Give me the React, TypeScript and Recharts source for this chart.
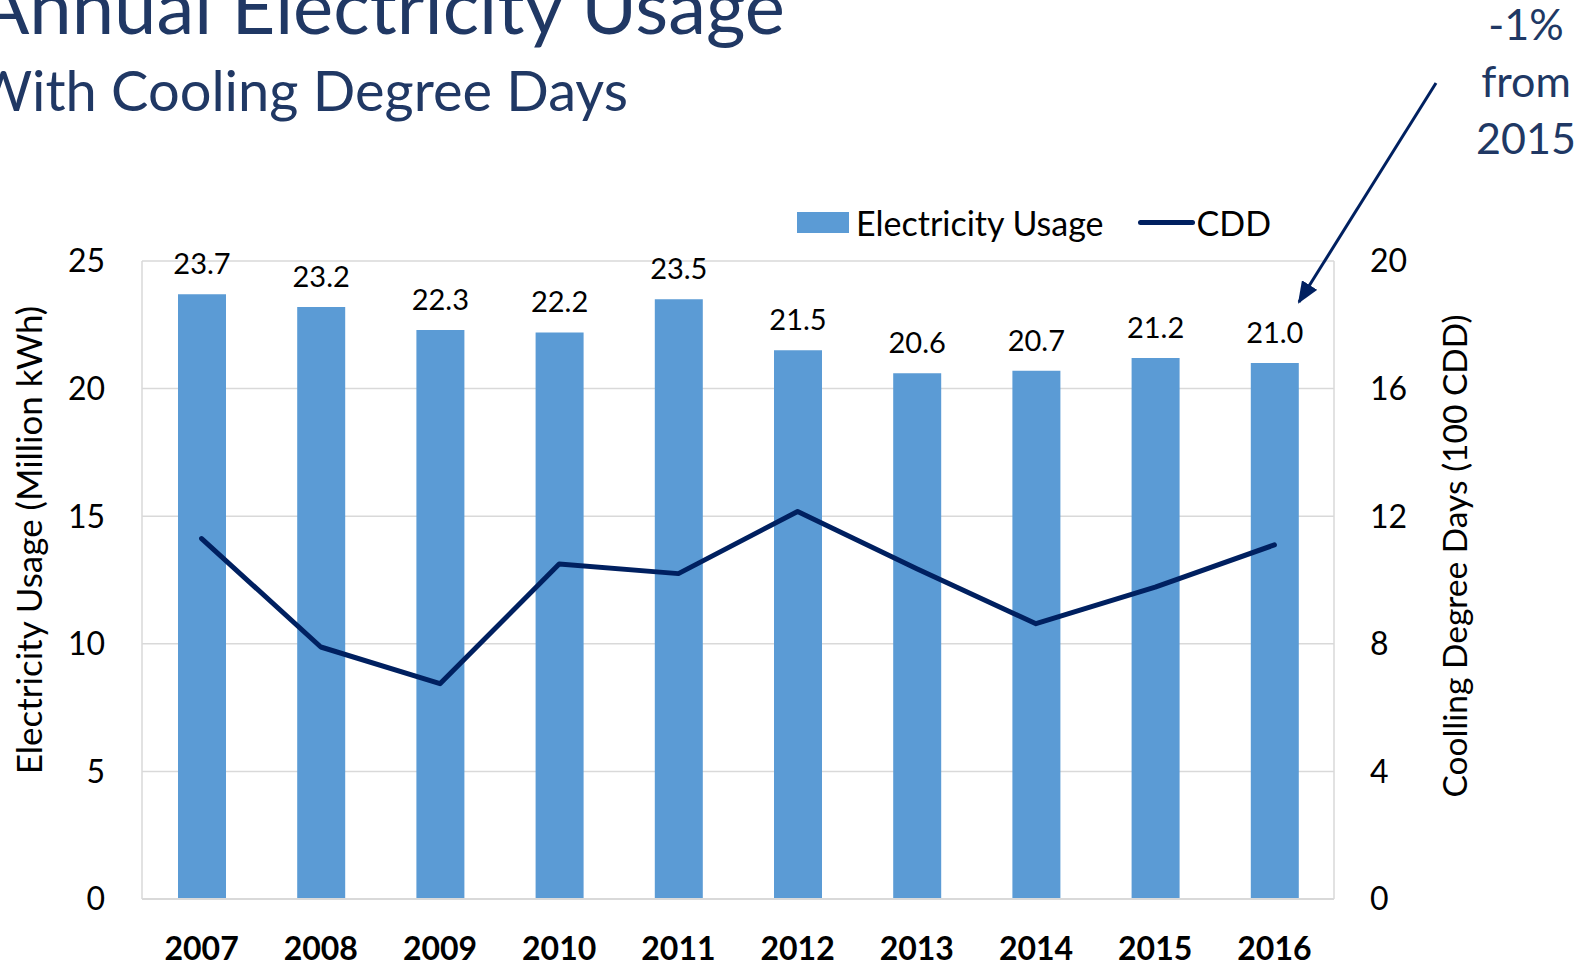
import React from 'react';
import { ComposedChart, Bar, Line, XAxis, YAxis, CartesianGrid, Legend, LabelList } from 'recharts';

// values
const years = ['2007', '2008', '2009', '2010', '2011', '2012', '2013', '2014', '2015', '2016'];
const usageMillionKwh = [23.7, 23.2, 22.3, 22.2, 23.5, 21.5, 20.6, 20.7, 21.2, 21.0];
const cddHundreds = [11.3, 7.9, 6.75, 10.5, 10.2, 12.15, 10.35, 8.63, 9.78, 11.1];
const usageTicks = [0, 5, 10, 15, 20, 25];
const cddTicks = [0, 4, 8, 12, 16, 20];
const legendOrder = ['usage', 'cdd'];

const BAR_COLOR = '#5B9BD5';
const LINE_COLOR = '#002060';
const TITLE_COLOR = '#203864';
const GRID_COLOR = '#D9D9D9';
const FONT = 'Lato, "Open Sans", sans-serif';

const data = years.map((year, i) => ({
  year,
  usage: usageMillionKwh[i],
  cdd: cddHundreds[i],
}));

interface LegendItem {
  value: string;
  type?: string;
  color?: string;
  dataKey?: string;
}

const renderLegend = (props: { payload?: LegendItem[] }) => {
  const items = [...(props.payload || [])].sort(
    (a, b) => legendOrder.indexOf(String(a.dataKey)) - legendOrder.indexOf(String(b.dataKey))
  );
  return (
    <div style={{ display: 'flex', alignItems: 'center', height: 44, fontFamily: FONT, fontSize: 34, color: '#000' }}>
      {items.map((item, i) => (
        <div key={`legend-${i}`} style={{ display: 'flex', alignItems: 'center', marginRight: 34 }}>
          {item.type === 'line' ? (
            <div style={{ width: 57, height: 5, borderRadius: 3, background: LINE_COLOR, marginRight: 2 }} />
          ) : (
            <div style={{ width: 52, height: 21, background: BAR_COLOR, marginRight: 7 }} />
          )}
          <span>{item.value}</span>
        </div>
      ))}
    </div>
  );
};

export default function App() {
  return (
    <div style={{ position: 'fixed', left: 0, top: 0, width: 1589, height: 966, background: '#fff', fontFamily: FONT, overflow: 'hidden' }}>
      <ComposedChart
        width={1589}
        height={966}
        data={data}
        margin={{ top: 261, right: 195, bottom: 17, left: 82 }}
      >
        <CartesianGrid yAxisId="left" vertical={false} stroke={GRID_COLOR} strokeWidth={1.5} />
        <XAxis
          dataKey="year"
          interval={0}
          height={50}
          tickSize={0}
          tickMargin={38}
          axisLine={{ stroke: GRID_COLOR, strokeWidth: 2 }}
          tickLine={false}
          tick={{ fontSize: 32, fontWeight: 700, fill: '#000' }}
        />
        <YAxis
          yAxisId="left"
          orientation="left"
          width={60}
          domain={[0, 25]}
          ticks={usageTicks}
          tickSize={0}
          tickMargin={37}
          axisLine={{ stroke: GRID_COLOR, strokeWidth: 1.5 }}
          tickLine={false}
          tick={{ fontSize: 32, fill: '#000' }}
        />
        <YAxis
          yAxisId="right"
          orientation="right"
          width={60}
          domain={[0, 20]}
          ticks={cddTicks}
          tickSize={0}
          tickMargin={36}
          axisLine={{ stroke: GRID_COLOR, strokeWidth: 1.5 }}
          tickLine={false}
          tick={{ fontSize: 32, fill: '#000' }}
        />
        <Legend
          layout="horizontal"
          verticalAlign="middle"
          align="center"
          wrapperStyle={{ top: 200, left: 797, width: 600, height: 44 }}
          content={renderLegend}
        />
        <Bar yAxisId="left" dataKey="usage" name="Electricity Usage" fill={BAR_COLOR} barSize={48} isAnimationActive={false}>
          <LabelList
            dataKey="usage"
            position="top"
            offset={20}
            formatter={(v: number) => v.toFixed(1)}
            style={{ fontSize: 29, fill: '#000', fontFamily: FONT }}
          />
        </Bar>
        <Line
          yAxisId="right"
          dataKey="cdd"
          name="CDD"
          type="linear"
          stroke={LINE_COLOR}
          strokeWidth={5}
          strokeLinecap="round"
          strokeLinejoin="round"
          dot={false}
          activeDot={false}
          isAnimationActive={false}
        />
      </ComposedChart>

      {/* titles, annotation and axis titles on top */}
      <svg width={1589} height={966} style={{ position: 'absolute', left: 0, top: 0, pointerEvents: 'none' }}>
        <defs>
          <marker id="arrowHead" markerWidth={22} markerHeight={18} refX={20} refY={9} orient="auto" markerUnits="userSpaceOnUse">
            <path d="M0,0 L22,9 L0,18 Z" fill={LINE_COLOR} />
          </marker>
        </defs>
        <text x={785} y={34} textAnchor="end" fontSize={76} fill={TITLE_COLOR} fontFamily={FONT}>
          Annual Electricity Usage
        </text>
        <text x={628} y={111} textAnchor="end" fontSize={56} fill={TITLE_COLOR} fontFamily={FONT}>
          With Cooling Degree Days
        </text>
        <g fontSize={43} fill={TITLE_COLOR} fontFamily={FONT} textAnchor="middle">
          <text x={1526} y={40}>-1%</text>
          <text x={1526} y={97}>from</text>
          <text x={1526} y={154}>2015</text>
        </g>
        <line x1={1436} y1={83} x2={1299} y2={302} stroke={LINE_COLOR} strokeWidth={3} markerEnd="url(#arrowHead)" />
        <text
          x={28}
          y={540}
          transform="rotate(-90 28 540)"
          textAnchor="middle"
          dominantBaseline="central"
          fontSize={35}
          fill="#000"
          fontFamily={FONT}
        >
          Electricity Usage (Million kWh)
        </text>
        <text
          x={1454}
          y={556}
          transform="rotate(-90 1454 556)"
          textAnchor="middle"
          dominantBaseline="central"
          fontSize={33.5}
          fill="#000"
          fontFamily={FONT}
        >
          Coolling Degree Days (100 CDD)
        </text>
      </svg>
    </div>
  );
}
